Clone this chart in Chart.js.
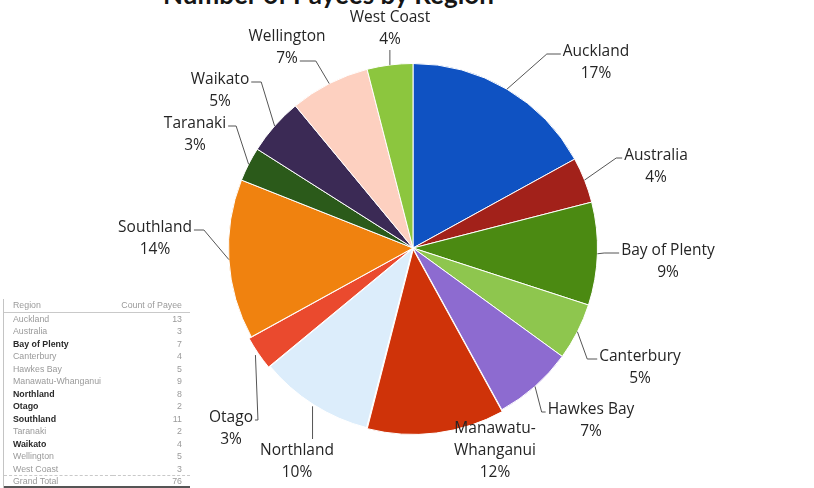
<!DOCTYPE html>
<html>
<head>
<meta charset="utf-8">
<title>Payees by region</title>
<script src="https://cdn.jsdelivr.net/npm/chart.js@4.4.1/dist/chart.umd.min.js"></script>
<style>
  html, body { margin: 0; padding: 0; background: #fff; overflow: hidden; }
  #wrap { position: relative; width: 814px; height: 488px; overflow: hidden; }
  #pie { position: absolute; left: 0; top: 0; }
  #title {
    position: absolute; left: 163px; top: -22px;
    font: bold 26px "Lato", sans-serif; color: #151515; white-space: nowrap;
  }
  #pivot {
    position: absolute; left: 3px; top: 299px; width: 186px;
    border-left: 1px solid #c4c4c4;
    font: 8.8px "Liberation Sans", sans-serif; color: #9a9a9a;
    filter: blur(0.4px);
  }
  #pivot table { border-collapse: collapse; width: 100%; }
  #pivot td { padding: 0 0 0 9px; height: 12.5px; line-height: 12.5px; white-space: nowrap; }
  #pivot td.n { text-align: right; padding: 0 8px 0 0; }
  #pivot tr.head td { border-bottom: 1px solid #c9c9c9; }
  #pivot tr.dark td:first-child { color: #2a2a2a; font-weight: bold; }
  #pivot tr.total td {
    height: 10px; line-height: 10px;
    border-top: 1px dashed #c9c9c9; border-bottom: 2px solid #555;
  }
</style>
</head>
<body>
<div id="wrap">
  <div id="title">Number of Payees by Region</div>
  <canvas id="pie" width="814" height="488"></canvas>
  <div id="pivot"><table id="pivot-body"></table></div>
</div>
<script>
// regions in slice order, clockwise from 12 o'clock
const regions = [
  "Auckland", "Australia", "Bay of Plenty", "Canterbury", "Hawkes Bay",
  "Manawatu-Whanganui", "Northland", "Otago", "Southland", "Taranaki",
  "Waikato", "Wellington", "West Coast"
];
// share of payees, %
const sharePct = [17, 4, 9, 5, 7, 12, 10, 3, 14, 3, 5, 7, 4];
// pivot table counts
const payeeCounts = [13, 3, 7, 4, 5, 9, 8, 2, 11, 2, 4, 5, 3];
const grandTotal = 76;

const sliceColors = [
  "#0f52c2", "#a2211a", "#4b8a12", "#8ec64e", "#8d6bd0", "#cf3309", "#dcedfb",
  "#ea4a2e", "#f0820f", "#2b5a1a", "#3b2a55", "#fdd0c0", "#8cc63e"
];
const sliceOffsets = [0, 0, 0, 0, 0, 6, 3, 6, 0, 0, 0, 0, 0];

// label placement: [dx, dy from pie centre to first text line, line the leader hooks to, hook length]
// null hook length = no leader line
const labelSpots = [
  [183, -196, 0, 14], [243, -92, 0, 6], [255, 3, 0, 15], [227, 109, 0, 10],
  [178, 162, 0, 4], [82, 181, 0, null], [-116, 203, 0, 0], [-182, 170, 0, 3],
  [-258, -20, 0, 10], [-218, -124, 0, 8], [-193, -168, 0, 10], [-126, -211, 1, 16],
  [-23, -230, 0, 0]
];

// small pivot table in the corner
const tbody = document.getElementById("pivot-body");
const darkRows = ["Bay of Plenty", "Northland", "Otago", "Southland", "Waikato"];
tbody.innerHTML =
  `<tr class="head"><td>Region</td><td class="n">Count of Payee</td></tr>` +
  regions.map((r, i) =>
    `<tr class="${darkRows.includes(r) ? "dark" : ""}"><td>${r}</td><td class="n">${payeeCounts[i]}</td></tr>`
  ).join("") +
  `<tr class="total"><td>Grand Total</td><td class="n">${grandTotal}</td></tr>`;

const LABEL_FONT = '15.5px "Open Sans", sans-serif';
const LINE_H = 22;

const pieLabels = {
  id: "pieLabels",
  afterDatasetsDraw(chart) {
    const ctx = chart.ctx;
    const arcs = chart.getDatasetMeta(0).data;
    ctx.save();
    ctx.font = LABEL_FONT;
    ctx.fillStyle = "#252525";
    ctx.strokeStyle = "#555";
    ctx.lineWidth = 1;
    ctx.textAlign = "center";
    ctx.textBaseline = "middle";
    arcs.forEach((arc, i) => {
      const { x, y, startAngle, endAngle, outerRadius } = arc.getProps(
        ["x", "y", "startAngle", "endAngle", "outerRadius"], true);
      const [dx, dy, hookLine, hook] = labelSpots[i];
      const lines = [regions[i].replace("-", "-\n"), sharePct[i] + "%"].join("\n").split("\n");
      const lx = x + dx, ly = y + dy;
      lines.forEach((t, k) => ctx.fillText(t, lx, ly + k * LINE_H));
      if (hook === null) return;

      const mid = (startAngle + endAngle) / 2;
      const r = outerRadius + sliceOffsets[i];
      const px = x + Math.cos(mid) * r, py = y + Math.sin(mid) * r;
      const hy = ly + hookLine * LINE_H + 2;
      const half = ctx.measureText(lines[hookLine]).width / 2;
      ctx.beginPath();
      ctx.moveTo(px, py);
      if (px < lx - half) {
        const ax = lx - half - 2;
        ctx.lineTo(ax - hook, hy);
        ctx.lineTo(ax, hy);
      } else if (px > lx + half) {
        const ax = lx + half + 2;
        ctx.lineTo(ax + hook, hy);
        ctx.lineTo(ax, hy);
      } else if (ly > py) {
        // label sits below the slice
        ctx.lineTo(px, ly - 12);
      } else {
        ctx.lineTo(px, ly + (lines.length - 1) * LINE_H + 10);
      }
      ctx.stroke();
    });
    ctx.restore();
  }
};

new Chart(document.getElementById("pie"), {
  type: "pie",
  data: {
    labels: regions,
    datasets: [{
      data: sharePct,
      backgroundColor: sliceColors,
      borderColor: "#ffffff",
      borderWidth: 1,
      offset: sliceOffsets
    }]
  },
  options: {
    responsive: false,
    animation: false,
    layout: { padding: { top: 60, bottom: 52, left: 225, right: 213 } },
    plugins: {
      legend: { display: false },
      tooltip: { enabled: false }
    }
  },
  plugins: [pieLabels]
});
</script>
</body>
</html>
